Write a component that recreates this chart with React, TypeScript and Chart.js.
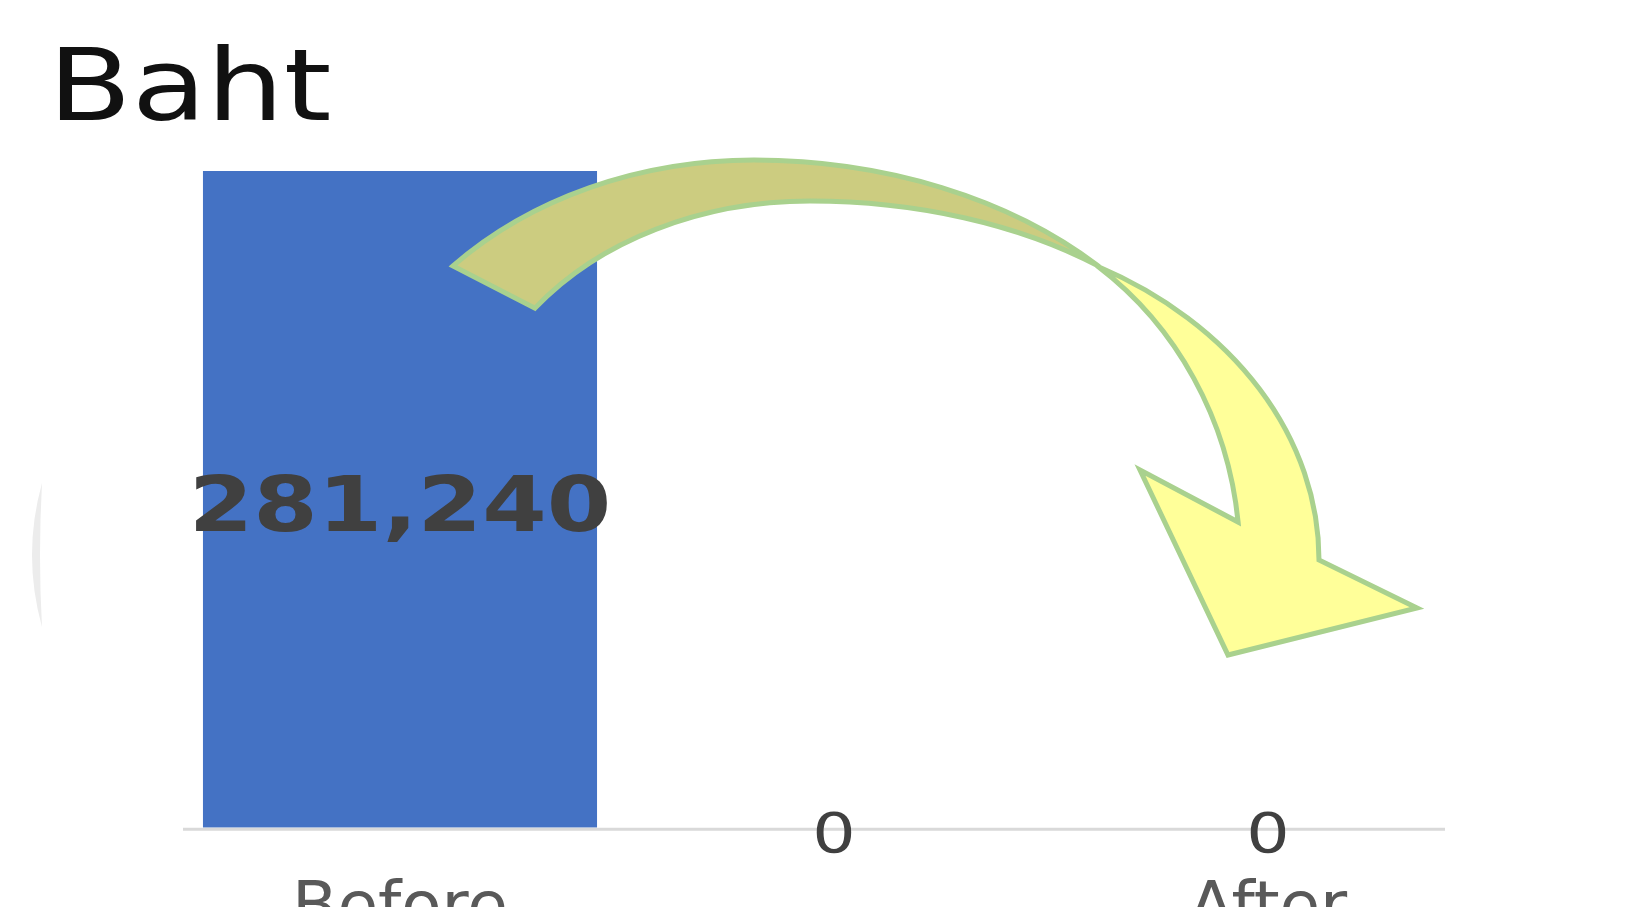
import { useEffect, useRef } from "react";
import { Chart, registerables } from "chart.js";

Chart.register(...registerables);

// ---- data ----
const categories = ["Before", "", "After"];
const bahtValues = [281240, 0, 0];
const titleText = "Baht";

// ---- look ----
const FONT = '"DejaVu Sans", Verdana, sans-serif';
const TEXT_STRETCH = 1.22;
const BAR_COLOR = "#4472c4";
const LABEL_COLOR = "#404040";
const AXIS_COLOR = "#d9d9d9";

// Curved ribbon arrow built from elliptical arcs; centres are px offsets
// from the plot area's top-left corner.
type Arc = { cx: number; cy: number; rx: number; ry: number };
// back face: each edge is two quarter-ellipses sharing their top point
const backOuterLeft: Arc = { cx: 572, cy: 320, rx: 410, ry: 330 };
const backOuterRight: Arc = { cx: 572, cy: 320, rx: 469, ry: 330 };
const backInnerLeft: Arc = { cx: 628, cy: 291, rx: 340, ry: 260 };
const backInnerRight: Arc = { cx: 628, cy: 291, rx: 436, ry: 260 };
// front face
const frontOuter: Arc = { cx: 718, cy: 390, rx: 419, ry: 333 };
const frontInner: Arc = { cx: 718, cy: 390, rx: 340, ry: 361 };
const tailOuterX = 271;
const tailInnerX = 353;
const twistX = 916;
const notchY = 352;
const headPoints: [number, number][] = [
  [1235, 438],
  [1046, 485],
  [958, 300],
];

// angle on the upper half of an ellipse for a given x or y offset
const angleAtX = (a: Arc, x: number) => -Math.acos(Math.max(-1, Math.min(1, (x - a.cx) / a.rx)));
const angleAtY = (a: Arc, y: number) => Math.asin(Math.max(-1, Math.min(1, (y - a.cy) / a.ry)));
const TOP = -Math.PI / 2;

function stretchedText(
  ctx: CanvasRenderingContext2D,
  text: string,
  x: number,
  y: number,
  align: CanvasTextAlign
) {
  ctx.save();
  ctx.translate(x, y);
  ctx.scale(TEXT_STRETCH, 1);
  ctx.textAlign = align;
  ctx.textBaseline = "alphabetic";
  ctx.fillText(text, 0, 0);
  ctx.restore();
}

const decorations = {
  id: "bahtDecorations",
  beforeDraw(chart: Chart) {
    const ctx = chart.ctx;
    ctx.save();
    // faint crescent at the left edge
    ctx.fillStyle = "#ececec";
    ctx.beginPath();
    ctx.moveTo(42, 483);
    ctx.quadraticCurveTo(22, 555, 42, 627);
    ctx.quadraticCurveTo(38, 555, 42, 483);
    ctx.closePath();
    ctx.fill();
    ctx.restore();
  },
  afterDatasetsDraw(chart: Chart) {
    const ctx = chart.ctx;
    const area = chart.chartArea;
    const ox = area.left - 1;
    const oy = area.top - 1;

    // axis baseline
    ctx.save();
    ctx.strokeStyle = AXIS_COLOR;
    ctx.lineWidth = 3;
    ctx.beginPath();
    ctx.moveTo(area.left, area.bottom + 1.5);
    ctx.lineTo(area.right - 40, area.bottom + 1.5);
    ctx.stroke();
    ctx.restore();

    // value labels
    const meta = chart.getDatasetMeta(0);
    ctx.save();
    ctx.fillStyle = LABEL_COLOR;
    meta.data.forEach((el: any, i: number) => {
      const v = bahtValues[i];
      const size = v === 0 ? 56 : 76;
      ctx.font = `${v === 0 ? "normal" : "bold"} ${size}px ${FONT}`;
      const yc = (el.y + el.base) / 2;
      stretchedText(ctx, v.toLocaleString("en-US"), el.x, yc + 0.3645 * size + 3.5, "center");
    });
    ctx.restore();

    // curved arrow
    const ell = (a: Arc, t0: number, t1: number, ccw: boolean) =>
      ctx.ellipse(a.cx + ox, a.cy + oy, a.rx, a.ry, 0, t0, t1, ccw);

    ctx.save();
    ctx.lineWidth = 5;
    ctx.lineJoin = "miter";
    ctx.strokeStyle = "#a9d18e";

    // back face (darker), from the tail to the twist
    ctx.beginPath();
    ell(backOuterLeft, angleAtX(backOuterLeft, tailOuterX), TOP, false);
    ell(backOuterRight, TOP, angleAtX(backOuterRight, twistX), false);
    ell(backInnerRight, angleAtX(backInnerRight, twistX), TOP, true);
    ell(backInnerLeft, TOP, angleAtX(backInnerLeft, tailInnerX), true);
    ctx.closePath();
    ctx.fillStyle = "#cccc80";
    ctx.fill();
    ctx.stroke();

    // front face with the head
    ctx.beginPath();
    ell(frontOuter, angleAtX(frontOuter, twistX), 0, false);
    headPoints.forEach(([x, y]) => ctx.lineTo(x + ox, y + oy));
    ell(frontInner, angleAtY(frontInner, notchY), angleAtX(frontInner, twistX), true);
    ctx.closePath();
    ctx.fillStyle = "#ffff99";
    ctx.fill();
    ctx.stroke();
    ctx.restore();
  },
  afterDraw(chart: Chart) {
    const ctx = chart.ctx;
    ctx.save();
    ctx.fillStyle = "#111111";
    ctx.font = `normal 100px ${FONT}`;
    stretchedText(ctx, titleText, 48, 120, "left");
    ctx.restore();
  },
};

export default function App() {
  const canvasRef = useRef<HTMLCanvasElement | null>(null);

  useEffect(() => {
    const canvas = canvasRef.current;
    if (!canvas) return;
    const chart = new Chart(canvas, {
      type: "bar",
      data: {
        labels: categories,
        datasets: [
          {
            label: titleText,
            data: bahtValues,
            backgroundColor: BAR_COLOR,
            borderWidth: 0,
            barPercentage: 0.908,
            categoryPercentage: 1,
          },
        ],
      },
      options: {
        responsive: false,
        maintainAspectRatio: false,
        animation: false,
        devicePixelRatio: 1,
        layout: { padding: { left: 183, right: 157, top: 171, bottom: 17 } },
        plugins: {
          legend: { display: false },
          tooltip: { enabled: false },
          title: { display: false },
        },
        scales: {
          x: {
            grid: { display: false },
            border: { display: false },
            ticks: {
              color: "#595959",
              font: { family: FONT, size: 66 },
              padding: 35,
              maxRotation: 0,
              autoSkip: false,
            },
          },
          y: {
            display: false,
            min: 0,
            max: Math.max(...bahtValues),
          },
        },
      },
      plugins: [decorations],
    });
    return () => chart.destroy();
  }, []);

  return (
    <div
      style={{
        position: "absolute",
        top: 0,
        left: 0,
        width: 1642,
        height: 907,
        overflow: "hidden",
        background: "#ffffff",
      }}
    >
      <canvas ref={canvasRef} width={1642} height={1002} style={{ display: "block" }} />
    </div>
  );
}
